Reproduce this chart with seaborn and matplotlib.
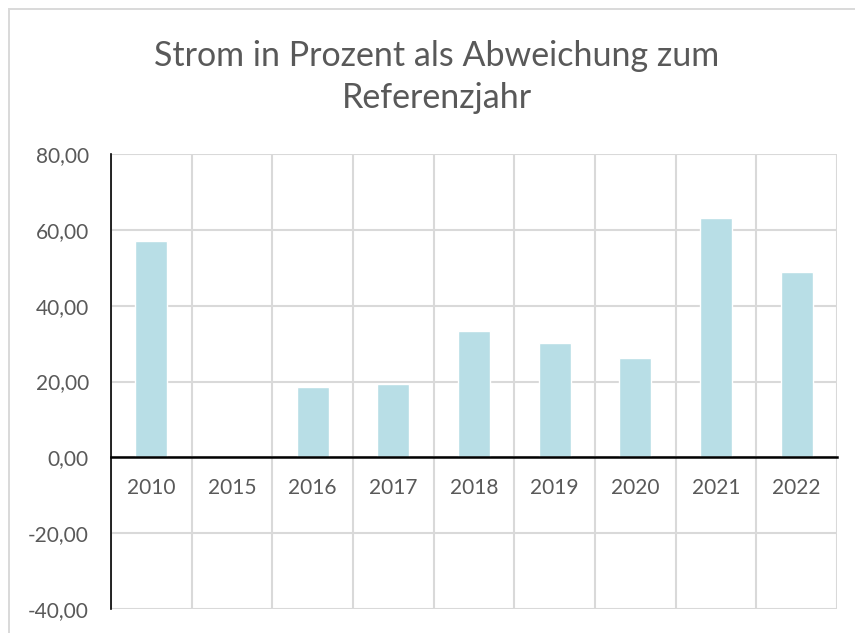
import matplotlib
matplotlib.use("Agg")
import matplotlib.pyplot as plt
import seaborn as sns
import pandas as pd
from matplotlib.ticker import FuncFormatter, MultipleLocator
from matplotlib.patches import Rectangle

# values
years = ["2010", "2015", "2016", "2017", "2018", "2019", "2020", "2021", "2022"]
abweichung = [57.1, 0.0, 18.5, 19.3, 33.4, 30.2, 26.2, 63.1, 48.8]
title = "Strom in Prozent als Abweichung zum\nReferenzjahr"

df = pd.DataFrame({"Jahr": years, "Abweichung": abweichung})

sns.set_style("white")
plt.rcParams["font.family"] = ["Lato", "DejaVu Sans"]

text_col = "#595959"
grid_col = "#d9d9d9"

fig = plt.figure(figsize=(8.55, 6.33), dpi=100)
ax = fig.add_axes([111 / 855, 1 - 609 / 633, (837 - 111) / 855, (609 - 154) / 633])

sns.barplot(data=df, x="Jahr", y="Abweichung", color="#b8dee6", saturation=1,
            width=0.4, ax=ax, zorder=3)

ax.set_xlim(-0.5, len(years) - 0.5)
ax.set_ylim(-40, 80)
ax.yaxis.set_major_locator(MultipleLocator(20))
ax.yaxis.set_major_formatter(FuncFormatter(lambda v, p: f"{v:.2f}".replace(".", ",")))

# gridlines like Excel: horizontal at major ticks, vertical between categories
ax.set_xticks([i - 0.5 for i in range(len(years) + 1)], minor=True)
ax.grid(True, axis="y", which="major", color=grid_col, lw=1.5, zorder=0)
ax.grid(True, axis="x", which="minor", color=grid_col, lw=1.5, zorder=0)
ax.grid(False, axis="x", which="major")
ax.set_axisbelow(True)

ax.spines["top"].set_visible(False)
ax.spines["right"].set_visible(False)
ax.spines["left"].set_color("black")
ax.spines["left"].set_linewidth(1.2)
ax.spines["bottom"].set_position(("data", 0))
ax.spines["bottom"].set_color("black")
ax.spines["bottom"].set_linewidth(1.8)
ax.spines["bottom"].set_zorder(4)

ax.tick_params(axis="x", which="both", length=0, pad=15, labelsize=15, labelcolor=text_col)
ax.tick_params(axis="y", length=0, pad=16, labelsize=15, labelcolor=text_col)
ax.set_xlabel("")
ax.set_ylabel("")

fig.text(437 / 855, 1 - 77 / 633, title, ha="center", va="center",
         fontsize=24.5, color=text_col, linespacing=1.35)

# chart area border
fig.patches.append(Rectangle((9 / 855, -0.1), 1.2, 1 - 9 / 633 + 0.1,
                             transform=fig.transFigure, fill=False,
                             edgecolor=grid_col, lw=1.4))

fig.savefig("out.png", dpi=100)
